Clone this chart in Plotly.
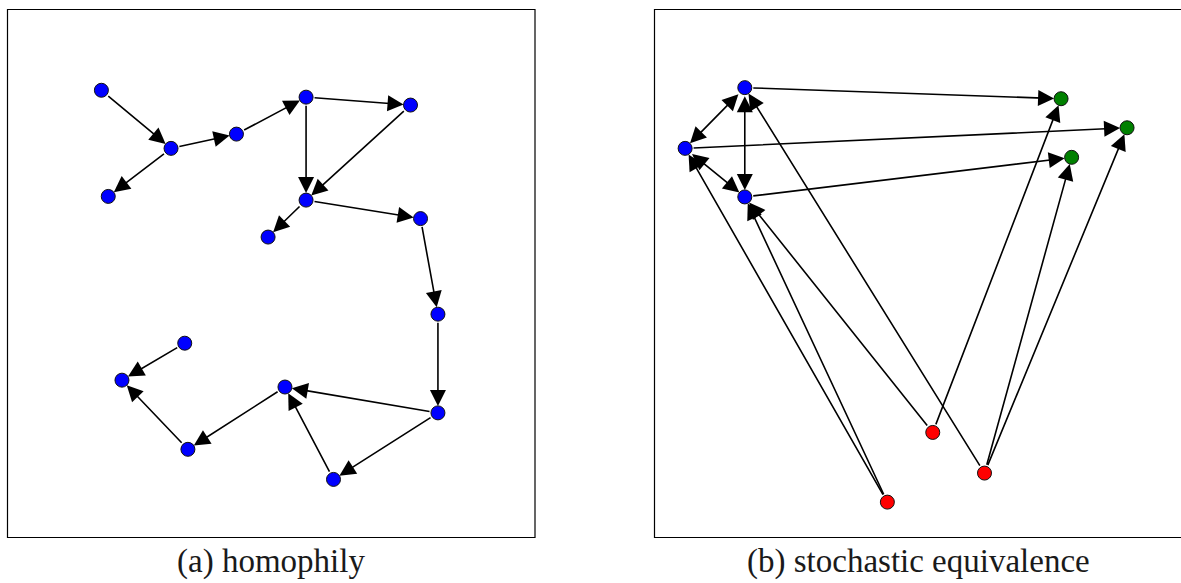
import plotly.graph_objects as go

# ---- (a) homophily: node layout and directed edges ----
a_nodes = ["A", "B", "C", "D", "E", "F", "G", "H", "I", "J", "K", "L", "M", "N", "O", "P"]
a_x = [0.178, 0.310, 0.191, 0.434, 0.566, 0.764, 0.566, 0.494, 0.783, 0.816, 0.816, 0.336, 0.217, 0.526, 0.342, 0.618]
a_y = [0.847, 0.737, 0.646, 0.764, 0.834, 0.819, 0.639, 0.569, 0.604, 0.423, 0.236, 0.368, 0.298, 0.285, 0.167, 0.110]
a_edges = [("A", "B"), ("B", "C"), ("B", "D"), ("D", "E"), ("E", "F"), ("E", "G"),
           ("F", "G"), ("G", "H"), ("G", "I"), ("I", "J"), ("J", "K"), ("K", "N"),
           ("K", "P"), ("P", "N"), ("N", "O"), ("O", "M"), ("L", "M")]

# ---- (b) stochastic equivalence ----
b_nodes = ["b1", "b2", "b3", "g1", "g2", "g3", "r1", "r2", "r3"]
b_x = [0.171, 0.058, 0.171, 0.770, 0.895, 0.790, 0.527, 0.625, 0.441]
b_y = [0.852, 0.737, 0.645, 0.831, 0.776, 0.720, 0.199, 0.122, 0.067]
b_colors = ["#0000ff", "#0000ff", "#0000ff", "#008000", "#008000", "#008000",
            "#ff0000", "#ff0000", "#ff0000"]
b_edges = [("b1", "g1"), ("b2", "g2"), ("b3", "g3"),
           ("r3", "b2"), ("r3", "b3"), ("r1", "b3"), ("r2", "b1"),
           ("r1", "g1"), ("r2", "g3"), ("r2", "g2")]
b_mutual = [("b1", "b2"), ("b1", "b3"), ("b2", "b3")]

captions = ["(a) homophily", "(b) stochastic equivalence"]

W, H = 1181, 583
# panel frames in pixels (left, top, right, bottom)
frame_a = (7.5, 9.5, 535.0, 537.5)
frame_b = (654.5, 9.5, 1182.5, 537.5)
R_NODE = 7

fig = go.Figure()


def px(v):
    return v / W


def py(v):
    return 1 - v / H


def add_edges(names, xs, ys, edges, xref, yref, both=False):
    pos = {n: (x, y) for n, x, y in zip(names, xs, ys)}
    for s, t in edges:
        (x0, y0), (x1, y1) = pos[s], pos[t]
        fig.add_annotation(
            x=x1, y=y1, ax=x0, ay=y0, xref=xref, yref=yref, axref=xref, ayref=yref,
            showarrow=True, text="", arrowhead=2, startarrowhead=2,
            arrowside="end+start" if both else "end",
            arrowsize=2.0, startarrowsize=2.0, arrowwidth=1.6, arrowcolor="black",
            standoff=R_NODE, startstandoff=R_NODE,
        )


add_edges(a_nodes, a_x, a_y, a_edges, "x", "y")
add_edges(b_nodes, b_x, b_y, b_edges, "x2", "y2")
add_edges(b_nodes, b_x, b_y, b_mutual, "x2", "y2", both=True)

fig.add_trace(go.Scatter(
    x=a_x, y=a_y, mode="markers", xaxis="x", yaxis="y", hoverinfo="skip",
    marker=dict(size=14, color="#0000ff", line=dict(color="#111111", width=1)),
))
fig.add_trace(go.Scatter(
    x=b_x, y=b_y, mode="markers", xaxis="x2", yaxis="y2", hoverinfo="skip",
    marker=dict(size=14, color=b_colors, line=dict(color="#111111", width=1)),
))

# frames
for (l, t, r, b) in (frame_a, frame_b):
    fig.add_shape(type="rect", xref="paper", yref="paper",
                  x0=px(l), x1=px(r), y0=py(b), y1=py(t),
                  line=dict(color="black", width=1.2), fillcolor="rgba(0,0,0,0)")

# axes: unit square per panel, matched to the frames
ax_common = dict(showgrid=False, zeroline=False, showticklabels=False, ticks="",
                 showline=False, fixedrange=True)
fa_l, fa_t, fa_r, fa_b = frame_a
fb_l, fb_t, fb_r, fb_b = frame_b
span_b = (W - fb_l) / (fb_r - fb_l)
fig.update_layout(
    xaxis=dict(domain=[px(fa_l), px(fa_r)], range=[0, 1], **ax_common),
    yaxis=dict(domain=[py(fa_b), py(fa_t)], range=[0, 1], **ax_common),
    xaxis2=dict(domain=[px(fb_l), 1.0], range=[0, span_b], anchor="y2", **ax_common),
    yaxis2=dict(domain=[py(fb_b), py(fb_t)], range=[0, 1], anchor="x2", **ax_common),
)

# captions
for text, (l, t, r, b) in zip(captions, (frame_a, frame_b)):
    fig.add_annotation(
        x=px((l + r) / 2), y=py(561), xref="paper", yref="paper",
        text=text, showarrow=False, xanchor="center", yanchor="middle",
        font=dict(family="Liberation Serif", size=33, color="#1a1a1a"),
    )

fig.update_layout(
    width=W, height=H, margin=dict(l=0, r=0, t=0, b=0),
    paper_bgcolor="white", plot_bgcolor="white", showlegend=False,
)

fig.write_html("out.html")
